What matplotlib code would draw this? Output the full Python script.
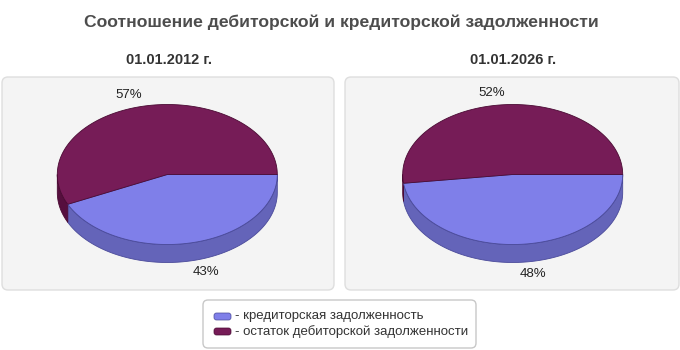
import numpy as np
import matplotlib
matplotlib.use("Agg")
import matplotlib.pyplot as plt
from matplotlib.patches import Polygon, FancyBboxPatch

# ---- data ----
title = "Соотношение дебиторской и кредиторской задолженности"
dates = ["01.01.2012 г.", "01.01.2026 г."]
series_names = ["кредиторская задолженность", "остаток дебиторской задолженности"]
kredit = [43, 48]
debit_rest = [57, 52]

top_colors = ["#7F7FE9", "#761C57"]
side_colors = ["#6464B9", "#560F3E"]
edge_colors = ["#4A4A9A", "#4A0A33"]

W, H = 680, 350
fig = plt.figure(figsize=(6.8, 3.5), dpi=100)
ax = fig.add_axes([0, 0, 1, 1])
ax.set_xlim(0, W)
ax.set_ylim(H, 0)
ax.axis("off")

FONT = ["Liberation Sans", "DejaVu Sans"]

ax.text(341, 22, title, ha="center", va="center", fontsize=12.6, fontweight="bold",
        color="#4D4D4D", family=FONT)


def arc(cx, cy, rx, ry, t1, t2, n=120, dy=0):
    t = np.radians(np.linspace(t1, t2, n))
    return np.column_stack([cx + rx * np.cos(t), cy - ry * np.sin(t) + dy])


def pie3d(cx, cy, rx, ry, depth, values):
    total = float(sum(values))
    bounds = []
    a = 0.0
    for v in values:
        b = a - 360.0 * v / total
        bounds.append((b, a))
        a = b
    # side walls (front half only)
    for i, (t1, t2) in enumerate(bounds):
        for k in range(-2, 2):
            lo, hi = -180 + 360 * k, 360 * k
            s, e = max(t1, lo), min(t2, hi)
            if e > s:
                top = arc(cx, cy, rx, ry, s, e)
                bot = arc(cx, cy, rx, ry, e, s, dy=depth)
                ax.add_patch(Polygon(np.vstack([top, bot]), closed=True,
                                     facecolor=side_colors[i], edgecolor=edge_colors[i],
                                     linewidth=0.6, zorder=2))
    # tops
    for i, (t1, t2) in enumerate(bounds):
        pts = np.vstack([[cx, cy], arc(cx, cy, rx, ry, t1, t2)])
        ax.add_patch(Polygon(pts, closed=True, facecolor=top_colors[i],
                             edgecolor=edge_colors[i], linewidth=0.6, zorder=3))
    # labels
    for i, (t1, t2) in enumerate(bounds):
        m = np.radians((t1 + t2) / 2)
        c, s = np.cos(m), np.sin(m)
        x = cx + 1.05 * rx * c
        y = cy - 1.16 * ry * s + (depth if s < 0 else 0)
        ax.text(x, y, f"{values[i] / total * 100:.0f}%", ha="left" if c > 0 else "right",
                va="center", fontsize=9.5, color="#222222", family=FONT, zorder=4)


panels = [(2, 334, 167.3), (345, 679, 512.7)]
for j, (x0, x1, cx) in enumerate(panels):
    ax.add_patch(FancyBboxPatch((x0, 77), x1 - x0, 213,
                                boxstyle="round,pad=0,rounding_size=6",
                                facecolor="#F4F4F4", edgecolor="#DEDEDE", linewidth=1, zorder=1))
    ax.text((x0 + x1) / 2 + 1, 60, dates[j], ha="center", va="center", fontsize=10.5,
            fontweight="bold", color="#333333", family=FONT)
    pie3d(cx, 174.5, 110, 70, 18, [kredit[j], debit_rest[j]])

# legend
ax.add_patch(FancyBboxPatch((203, 300), 273, 48, boxstyle="round,pad=0,rounding_size=5",
                            facecolor="white", edgecolor="#C8C8C8", linewidth=1, zorder=1))
for i, name in enumerate(series_names):
    yc = 316.5 + i * 15
    ax.add_patch(FancyBboxPatch((214, yc - 3.5), 17, 7, boxstyle="round,pad=0,rounding_size=2.5",
                                facecolor=top_colors[i], edgecolor=edge_colors[i], linewidth=0.5,
                                zorder=2))
    ax.text(235, yc, "- " + name, ha="left", va="center", fontsize=9.5, color="#333333",
            family=FONT)

fig.savefig("out.png", dpi=100)
